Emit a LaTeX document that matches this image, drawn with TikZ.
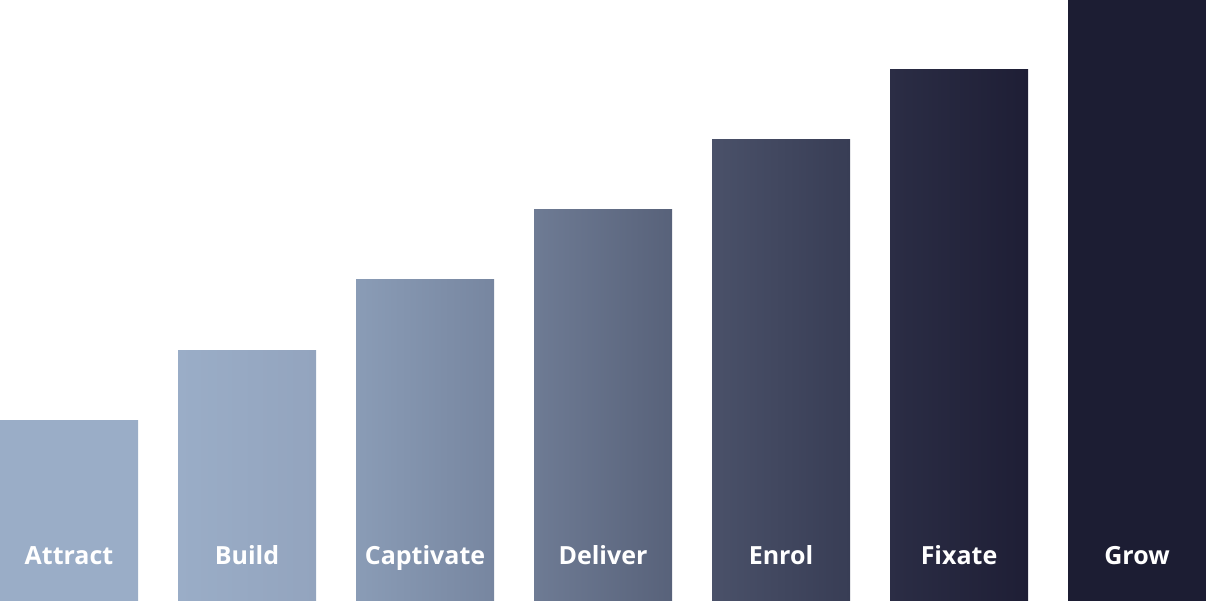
\documentclass[tikz,border=0pt]{standalone}
\usepackage{fontspec}
\setmainfont{Open Sans}
\definecolor{cA}{HTML}{9AADC7}
\definecolor{cB1}{HTML}{9AADC7}\definecolor{cB2}{HTML}{93A4BE}
\definecolor{cC1}{HTML}{8A9CB6}\definecolor{cC2}{HTML}{7786A0}
\definecolor{cD1}{HTML}{6E7B94}\definecolor{cD2}{HTML}{58627A}
\definecolor{cE1}{HTML}{4A5169}\definecolor{cE2}{HTML}{383D55}
\definecolor{cF1}{HTML}{2B2D45}\definecolor{cF2}{HTML}{1E1E35}
\definecolor{cG}{HTML}{1C1D33}
\tikzset{lbl/.style={text=white,font=\bfseries\fontsize{25}{30}\selectfont,anchor=base,inner sep=0pt}}
\begin{document}
\begin{tikzpicture}[x=1pt,y=-1pt]
\useasboundingbox (0,0) rectangle (1206,601);
\shade[left color=cA,right color=cA] (0,420) rectangle (138,601);
\shade[left color=cB1,right color=cB2] (178,350) rectangle (316,601);
\shade[left color=cC1,right color=cC2] (356,280) rectangle (494,601);
\shade[left color=cD1,right color=cD2] (534,210) rectangle (672,601);
\shade[left color=cE1,right color=cE2] (712,140) rectangle (850,601);
\shade[left color=cF1,right color=cF2] (890,70) rectangle (1028,601);
\fill[cG] (1068,0) rectangle (1206,601);
\node[lbl] (a) at (69,564) {Attract};
\node[lbl] (b) at (247,564) {Build};
\node[lbl] (c) at (425,564) {Captivate};
\node[lbl] (d) at (603,564) {Deliver};
\node[lbl] (e) at (781,564) {Enrol};
\node[lbl] (f) at (959,564) {Fixate};
\node[lbl] (g) at (1137,564) {Grow};
\end{tikzpicture}
\end{document}
